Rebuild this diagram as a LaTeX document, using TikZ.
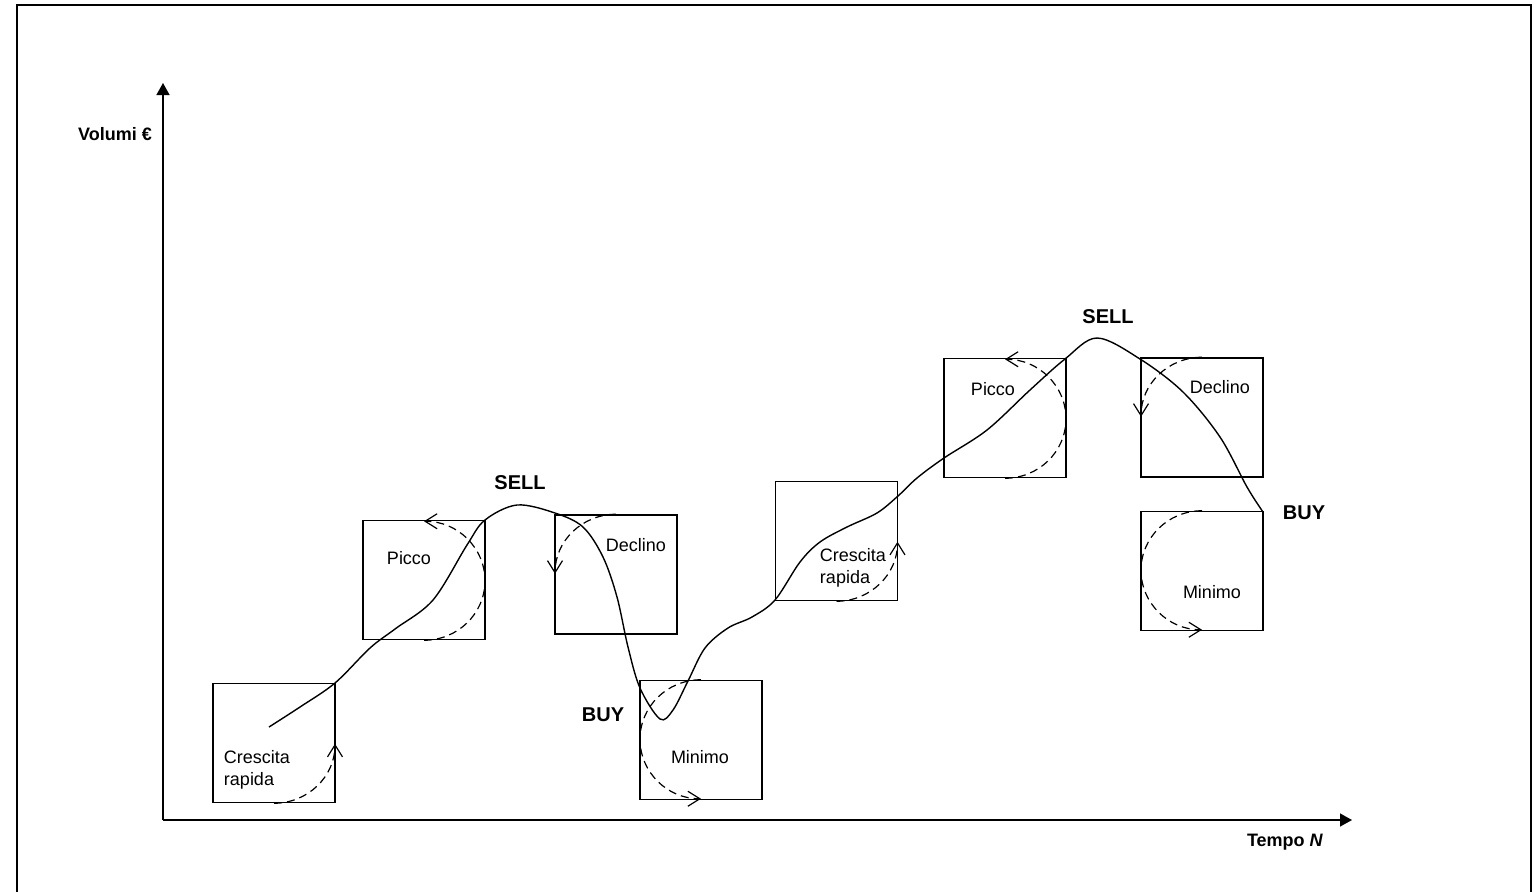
\documentclass[tikz,border=0pt]{standalone}
\usepackage{fontspec}
\setmainfont{Liberation Sans}
\usetikzlibrary{arrows.meta, positioning}

\begin{document}
\begin{tikzpicture}[x=0.5pt, y=-0.5pt, font=\small,
  phasebox/.style={draw, line width=0.75pt, minimum width=61pt, minimum height=59.5pt, inner sep=0pt},
  turnarrow/.style={dash pattern=on 4pt off 2.5pt, line width=0.6pt, -{Straight Barb[length=6pt,width=7.5pt]}},
  tradelabel/.style={font=\normalsize\bfseries},
  axisline/.style={line width=0.7pt, -{Triangle[length=6pt,width=6.5pt]}}]
  \useasboundingbox (0,0) rectangle (1539,891);
  % frame, open at the bottom
  \draw[line width=1pt] (17,900) -- (17,5) -- (1531,5) -- (1531,900);
  % axes
  \coordinate (O) at (163,820);
  \coordinate (ytip) at (163,83);
  \coordinate (xtip) at (1352,820);
  \draw[axisline] (O) -- (ytip);
  \draw[axisline] (O) -- (xtip);
  \node[font=\small\bfseries] (ylab) at (115,134) {Volumi €};
  \node[font=\small\bfseries] (xlab) at (1285,842) {Tempo \textit{N}};
  % phase boxes
  \foreach \n/\x/\y in {c1/274/743, p1/424/580, d1/616/574.5, m1/701/740,
                        c2/836.5/541, p2/1005/418, d2/1202/417.5, m2/1202/571}
    \node[phasebox] (\n) at (\x,\y) {};
  % dashed turns
  \foreach \n in {c1,c2}
    \draw[turnarrow] (\n.south) arc[start angle=-90, end angle=0, x radius=30.5pt, y radius=29.75pt];
  \foreach \n in {p1,p2}
    \draw[turnarrow] (\n.south) arc[start angle=-90, end angle=90, x radius=30.5pt, y radius=29.75pt];
  \foreach \n in {d1,d2}
    \draw[turnarrow] (\n.north) arc[start angle=90, end angle=180, x radius=30.5pt, y radius=29.75pt];
  \foreach \n in {m1,m2}
    \draw[turnarrow] (\n.north) arc[start angle=90, end angle=270, x radius=30.5pt, y radius=29.75pt];
  % box texts
  \node[align=left] (c1t) at (257,770) {Crescita\\rapida};
  \node (p1t) at (409,558) {Picco};
  \node (d1t) at (636,545) {Declino};
  \node (m1t) at (700,757) {Minimo};
  \node[align=left] (c2t) at (853,568) {Crescita\\rapida};
  \node (p2t) at (993,389) {Picco};
  \node (d2t) at (1220,387) {Declino};
  \node (m2t) at (1212,592) {Minimo};
  % signals
  \node[tradelabel] (sell1) at (520,483) {SELL};
  \node[tradelabel] (sell2) at (1108,317) {SELL};
  \node[tradelabel] (buy1) at (603,715) {BUY};
  \node[tradelabel] (buy2) at (1304,513) {BUY};
  % market curve
  \draw[line width=0.7pt] plot[smooth, tension=0.55] coordinates {
    (269,727) (300,707) (335,683) (370,648) (395,629) (433,600) (467,545) (485,520)
    (517,505) (555,513) (583,527) (603,557) (617,597) (628,647) (640,688) (660,719)
    (673,710) (688,681) (705,648) (728,628) (752,617) (775,600) (800,562) (820,542)
    (847,527) (877,513) (898,496) (917,478) (944,458) (987,430) (1030,390) (1065,359)
    (1097,338) (1140,359) (1183,392) (1220,437) (1247,487) (1263,512)};
\end{tikzpicture}
\end{document}
